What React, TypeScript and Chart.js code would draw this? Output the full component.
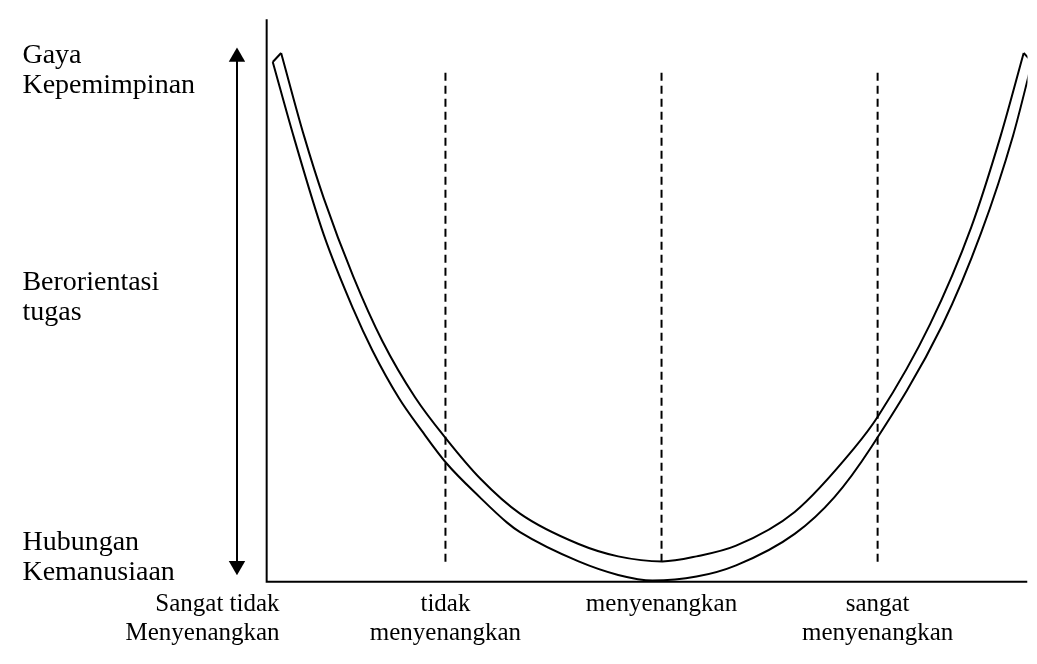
import React, { useEffect, useRef } from "react";
import { Chart, registerables } from "chart.js";

Chart.register(...registerables);

// x: favourableness of the situation (0 = vertical axis, 100 = right edge of the plot)
// y: leadership style (0 = relationship oriented, 100 = task oriented)
const categoryLabels: string[][] = [
  ["Sangat tidak", "Menyenangkan"],
  ["tidak", "menyenangkan"],
  ["menyenangkan"],
  ["sangat", "menyenangkan"],
];
const categoryX = [1.7, 23.5, 51.9, 80.3];
const dividerX = [23.5, 51.9, 80.3];
const dividerTop = 90.5;
const dividerBottom = 2.8;

const styleLabels: string[][] = [
  ["Gaya", "Kepemimpinan"],
  ["Berorientasi", "tugas"],
  ["Hubungan", "Kemanusiaan"],
];
const styleY = [90.9, 50.5, 4.2];

const arrowX = -3.9;
const arrowHeadY = [93.3, 2.85];

const innerX = [1.9, 4.9, 7.5, 11.4, 15.2, 19.5, 23.6, 28.1, 33.3, 41.0, 46.2, 52.0, 56.5, 61.7, 69.4, 77.2, 80.4, 87.2, 92.6, 96.5, 99.5];
const innerY = [94.0, 79.3, 68.2, 54.2, 42.8, 32.8, 25.4, 18.3, 12.1, 6.7, 4.5, 3.6, 4.5, 6.4, 12.4, 23.7, 29.5, 45.8, 63.0, 79.4, 94.0];

const outerX = [0.8, 3.6, 7.5, 11.4, 13.9, 17.4, 20.4, 23.6, 28.1, 31.6, 33.3, 41.0, 46.2, 50.7, 56.5, 61.7, 69.4, 74.6, 79.5, 88.8, 93.9, 98.1, 100.6];
const outerY = [92.4, 78.9, 61.7, 48.4, 41.1, 32.6, 26.8, 21.1, 14.9, 10.5, 8.8, 3.6, 1.2, 0.2, 0.9, 2.9, 8.5, 15.0, 24.0, 45.6, 62.0, 79.3, 92.4];

const axisX = [0, 0, 100];
const axisY = [100, 0, 0];

// view / style settings
const X_MIN = -33.8;
const X_MAX = 100;
const Y_MIN = -12.95;
const Y_MAX = 101.73;
const STYLE_LABEL_X = -32.1;
const CATEGORY_LABEL_Y = -4.0;
const STYLE_FONT = `28px "Liberation Serif", "Times New Roman", serif`;
const STYLE_LINE_H = 30;
const CATEGORY_FONT = `25px "Liberation Serif", "Times New Roman", serif`;
const CATEGORY_LINE_H = 29;

const pts = (xs: number[], ys: number[]) => xs.map((x, i) => ({ x, y: ys[i] }));

const textPlugin = {
  id: "textLabels",
  afterDatasetsDraw(chart: any) {
    const { ctx, scales } = chart;
    const sx = scales.x;
    const sy = scales.y;
    ctx.save();
    ctx.fillStyle = "#000";
    ctx.textBaseline = "middle";

    ctx.font = STYLE_FONT;
    ctx.textAlign = "left";
    const lx = sx.getPixelForValue(STYLE_LABEL_X);
    styleLabels.forEach((lines, i) => {
      const cy = sy.getPixelForValue(styleY[i]);
      lines.forEach((t, j) => {
        ctx.fillText(t, lx, cy + (j - (lines.length - 1) / 2) * STYLE_LINE_H);
      });
    });

    ctx.font = CATEGORY_FONT;
    const ty = sy.getPixelForValue(CATEGORY_LABEL_Y);
    categoryLabels.forEach((lines, i) => {
      ctx.textAlign = i === 0 ? "right" : "center";
      const cx = sx.getPixelForValue(categoryX[i]);
      lines.forEach((t, j) => {
        ctx.fillText(t, cx, ty + j * CATEGORY_LINE_H);
      });
    });
    ctx.restore();
  },
};

export default function App() {
  const canvasRef = useRef<HTMLCanvasElement | null>(null);

  useEffect(() => {
    document.body.style.margin = "0";
    if (!canvasRef.current) return;
    const black = "#000000";
    const datasets: any[] = [
      {
        label: "axes",
        data: pts(axisX, axisY),
        borderColor: black,
        borderWidth: 2,
        tension: 0,
        pointRadius: 0,
        borderJoinStyle: "miter",
      },
      ...dividerX.map((x) => ({
        label: "divider",
        data: [
          { x, y: dividerTop },
          { x, y: dividerBottom },
        ],
        borderColor: black,
        borderWidth: 2,
        borderDash: [8, 5],
        tension: 0,
        pointRadius: 0,
      })),
      {
        label: "inner",
        data: pts(innerX, innerY),
        borderColor: black,
        borderWidth: 2,
        cubicInterpolationMode: "monotone",
        pointRadius: 0,
      },
      {
        label: "outer",
        data: pts(outerX, outerY),
        borderColor: black,
        borderWidth: 2,
        cubicInterpolationMode: "monotone",
        pointRadius: 0,
      },
      {
        label: "capLeft",
        data: [
          { x: outerX[0], y: outerY[0] },
          { x: innerX[0], y: innerY[0] },
        ],
        borderColor: black,
        borderWidth: 2,
        tension: 0,
        pointRadius: 0,
      },
      {
        label: "capRight",
        data: [
          { x: innerX[innerX.length - 1], y: innerY[innerY.length - 1] },
          { x: outerX[outerX.length - 1], y: outerY[outerY.length - 1] },
        ],
        borderColor: black,
        borderWidth: 2,
        tension: 0,
        pointRadius: 0,
      },
      {
        label: "arrow",
        data: arrowHeadY.map((y) => ({ x: arrowX, y })),
        borderColor: black,
        borderWidth: 2,
        tension: 0,
        pointStyle: "triangle",
        pointRadius: 9.5,
        pointBorderWidth: 0,
        pointBackgroundColor: black,
        pointBorderColor: black,
        pointRotation: [0, 180],
      },
    ];

    const chart = new Chart(canvasRef.current, {
      type: "line",
      data: { datasets },
      options: {
        animation: false,
        responsive: false,
        devicePixelRatio: 1,
        events: [],
        layout: { padding: 0 },
        plugins: {
          legend: { display: false },
          tooltip: { enabled: false },
        },
        scales: {
          x: { type: "linear", display: false, min: X_MIN, max: X_MAX },
          y: { type: "linear", display: false, min: Y_MIN, max: Y_MAX },
        },
      },
      plugins: [textPlugin],
    } as any);

    return () => chart.destroy();
  }, []);

  return (
    <div style={{ width: 1037, height: 664, overflow: "hidden", background: "#fff" }}>
      <canvas ref={canvasRef} width={1037} height={664} style={{ display: "block" }} />
    </div>
  );
}
